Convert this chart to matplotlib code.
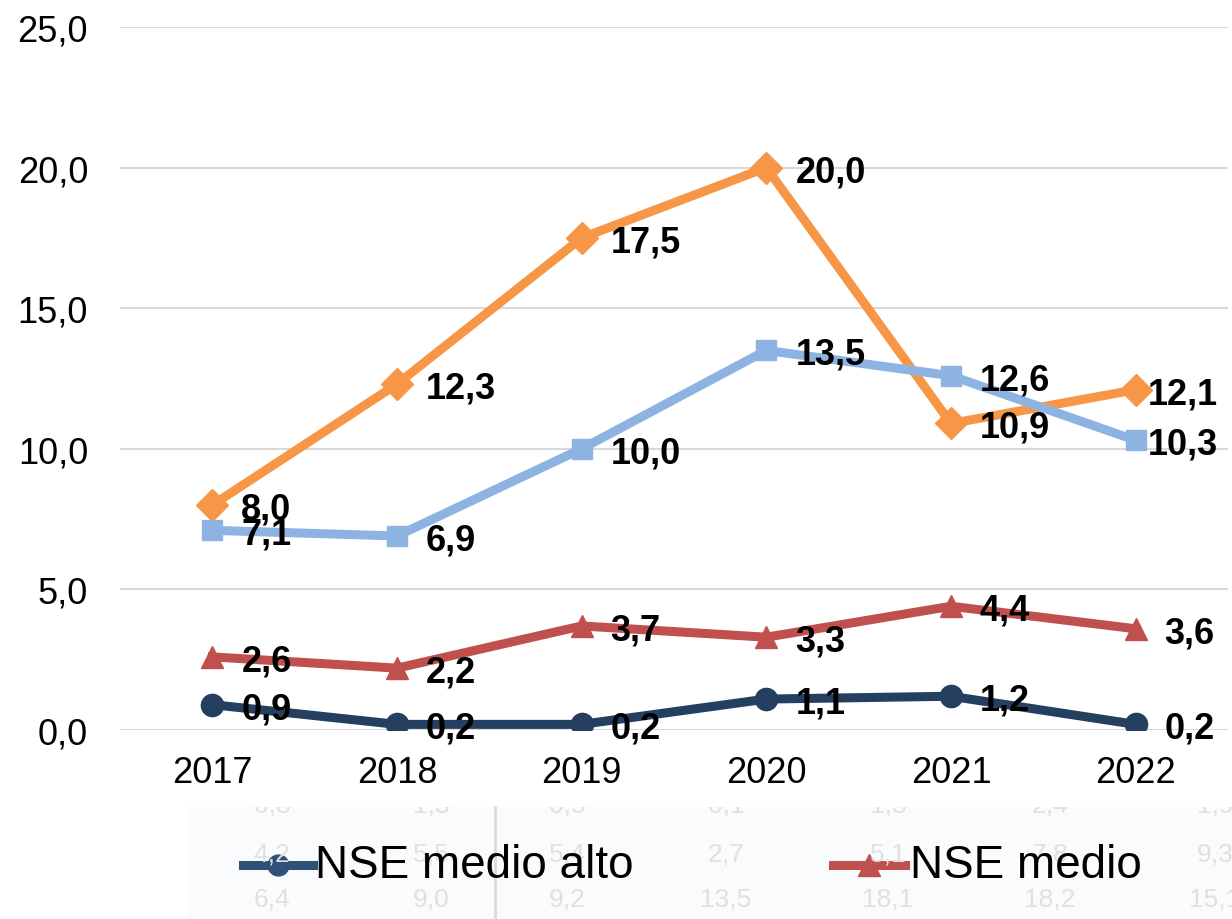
import matplotlib
matplotlib.use("Agg")
import matplotlib.pyplot as plt
from matplotlib.lines import Line2D
from matplotlib.patches import Rectangle

plt.rcParams['font.family'] = ['Liberation Sans', 'DejaVu Sans']

years = ["2017", "2018", "2019", "2020", "2021", "2022"]
orange_vals = [8.0, 12.3, 17.5, 20.0, 10.9, 12.1]
blue_vals = [7.1, 6.9, 10.0, 13.5, 12.6, 10.3]
medio_vals = [2.6, 2.2, 3.7, 3.3, 4.4, 3.6]
medio_alto_vals = [0.9, 0.2, 0.2, 1.1, 1.2, 0.2]
yticks = [0, 5, 10, 15, 20, 25]

# faint background table (artifact under legend)
bg_row1 = ["0,8", "1,3", "0,5", "0,1", "1,3", "2,4", "1,9"]
bg_row2 = ["4,2", "5,5", "5,4", "2,7", "5,1", "7,8", "9,3"]
bg_row3 = ["6,4", "9,0", "9,2", "13,5", "18,1", "18,2", "15,1"]

W, H = 1232, 920
fig = plt.figure(figsize=(W / 100, H / 100), dpi=100)
ax = fig.add_axes([120 / W, 1 - 731 / H, (1228 - 120) / W, (731 - 28) / H])

x = list(range(len(years)))
series = [
    (orange_vals, "#F79646", "D", 16),
    (blue_vals, "#8DB3E2", "s", 15),
    (medio_vals, "#C0504D", "^", 16),
    (medio_alto_vals, "#243F60", "o", 16),
]
for vals, col, mk, ms in series:
    ax.plot(x, vals, color=col, lw=6.5, marker=mk, markersize=ms,
            markerfacecolor=col, markeredgecolor=col, zorder=3,
            solid_joinstyle='miter')
    for i, v in enumerate(vals):
        lab = f"{v:.1f}".replace(".", ",")
        dx = 29
        if i == len(vals) - 1 and v >= 10:
            dx = 12
        ax.annotate(lab, (i, v), xytext=(dx, -4), textcoords='offset pixels',
                    ha='left', va='center', fontsize=26, fontweight='bold',
                    color='black', zorder=5)

ax.set_xlim(-0.5, 5.5)
ax.set_ylim(0, 25)
ax.set_yticks(yticks)
ax.set_yticklabels([f"{t:.1f}".replace(".", ",") for t in yticks])
ax.set_xticks(x)
ax.set_xticklabels(years)
ax.tick_params(axis='both', length=0, labelsize=26, colors='black')
ax.tick_params(axis='y', pad=23)
ax.tick_params(axis='x', pad=18)
ax.grid(axis='y', color='#D9D9D9', lw=1.5)
ax.set_axisbelow(True)
for s in ax.spines.values():
    s.set_visible(False)

# legend area with faint background table
rect = Rectangle((187 / W, 0), (W - 187) / W, (920 - 808) / H, transform=fig.transFigure,
                 facecolor='#FAFBFD', edgecolor='none', zorder=0)
fig.add_artist(rect)
fig.add_artist(Line2D([495 / W, 495 / W], [0, (920 - 808) / H], transform=fig.transFigure,
                      color='#DADADA', lw=2))
cols_px = [272, 431, 567, 726, 888, 1050, 1215]
for row, ypx in [(bg_row1, 806), (bg_row2, 855), (bg_row3, 900)]:
    for lab, xp in zip(row, cols_px):
        t = fig.text(xp / W, 1 - ypx / H, lab, ha='center', va='center', fontsize=19,
                     color='#E0E0E0')
        t.set_clip_path(rect)

leg_y = 1 - 866 / H
fig.add_artist(Line2D([243 / W, 313 / W], [leg_y, leg_y], transform=fig.transFigure,
                      color='#2E5079', lw=6.5))
fig.add_artist(Line2D([278 / W], [leg_y], transform=fig.transFigure,
                      color='#2E5079', lw=0, marker='o', markersize=15))
fig.add_artist(Line2D([833 / W, 905 / W], [leg_y, leg_y], transform=fig.transFigure,
                      color='#C0504D', lw=6.5))
fig.add_artist(Line2D([869 / W], [leg_y], transform=fig.transFigure,
                      color='#C0504D', lw=0, marker='^', markersize=16))
fig.text(315 / W, leg_y, "NSE medio alto", ha='left', va='center', fontsize=33, color='black')
fig.text(910 / W, leg_y, "NSE medio", ha='left', va='center', fontsize=33, color='black')

fig.savefig("out.png", dpi=100)
